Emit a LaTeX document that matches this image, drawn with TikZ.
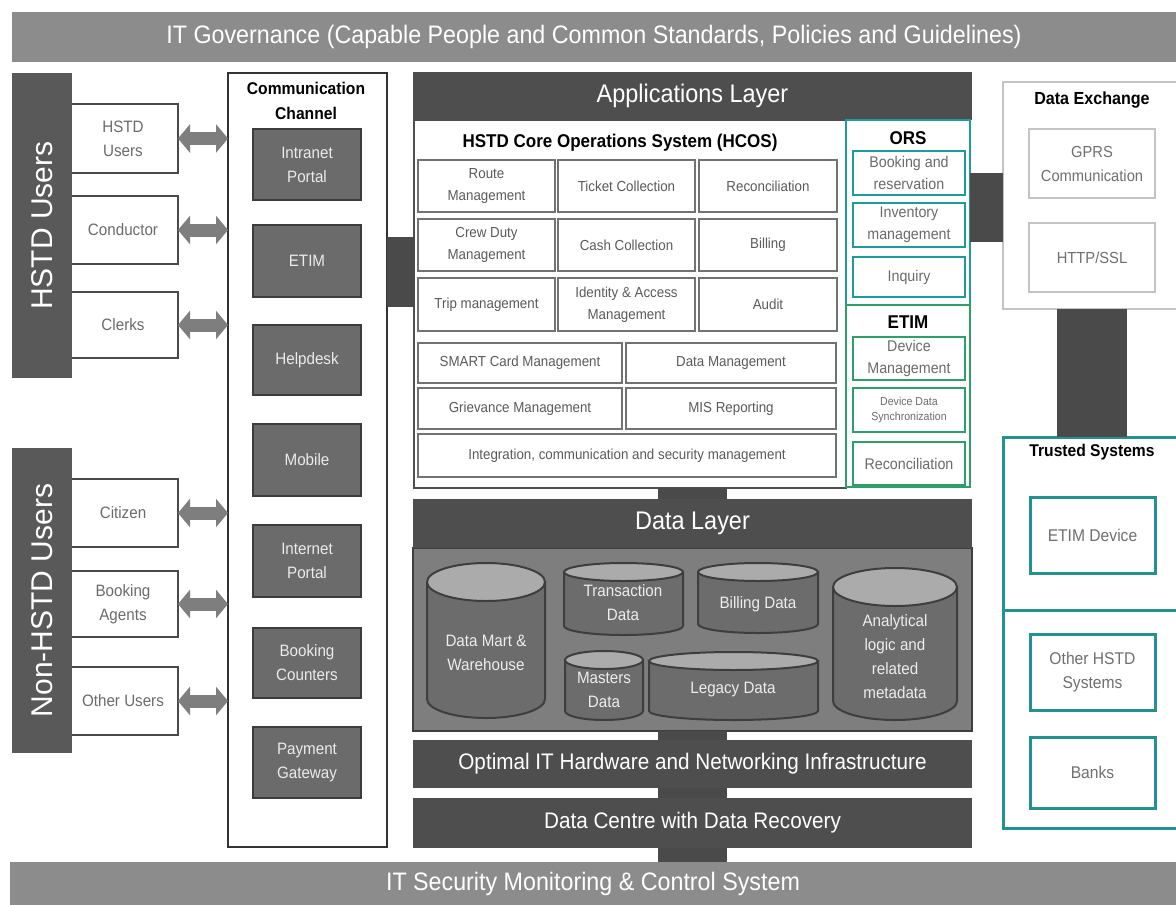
\documentclass[tikz,border=0pt]{standalone}
\usepackage{fontspec}
\setmainfont{Liberation Sans}[FakeStretch=0.92]
\newfontfamily\widefont{Liberation Sans}
\usetikzlibrary{arrows.meta}
\definecolor{bargray}{HTML}{8C8C8C}
\definecolor{userbar}{HTML}{595959}
\definecolor{appdark}{HTML}{4E4E4E}
\definecolor{conngray}{HTML}{4A4A4A}
\definecolor{chfill}{HTML}{6B6B6B}
\definecolor{chdraw}{HTML}{3C3C3C}
\definecolor{cellline}{HTML}{727272}
\definecolor{celltext}{HTML}{5A5A5A}
\definecolor{usertext}{HTML}{6B6B6B}
\definecolor{userline}{HTML}{4A4A4A}
\definecolor{orsteal}{HTML}{1F9B9B}
\definecolor{etimgreen}{HTML}{2E9E6A}
\definecolor{trustteal}{HTML}{239191}
\definecolor{dxline}{HTML}{C4C4C4}
\definecolor{dxtext}{HTML}{707070}
\definecolor{dlbody}{HTML}{7E7E7E}
\definecolor{cylbody}{HTML}{6C6C6C}
\definecolor{cyltop}{HTML}{ABABAB}
\definecolor{cylline}{HTML}{3E3E3E}
\definecolor{arrowgray}{HTML}{7E7E7E}
\begin{document}
\begin{tikzpicture}[x=1pt,y=-1pt,
  every node/.style={inner sep=0pt,outer sep=0pt,align=center},
  fbig/.style={font=\fontsize{25.5}{30}\selectfont},
  fmed/.style={font=\fontsize{16.5}{24}\selectfont},
  fsml/.style={font=\fontsize{14.5}{21.5}\selectfont},
  fors/.style={font=\fontsize{15.5}{21.5}\selectfont},
  ftiny/.style={font=\fontsize{11.5}{15}\selectfont},
  fbold/.style={font=\fontsize{#1}{25}\selectfont\bfseries},
  bar/.style={fill=bargray,text=white,anchor=north west,font=\fontsize{25.3}{28}\selectfont},
  layerbar/.style={fill=appdark,text=white,anchor=north west,fbig},
  userbar/.style={fill=userbar,anchor=north west},
  userbox/.style={draw=userline,line width=2.5pt,fill=white,text=usertext,anchor=north west,fmed},
  chbox/.style={draw=chdraw,line width=2pt,fill=chfill,text=white!92!black,anchor=north west,fmed},
  cell/.style={draw=cellline,line width=2.5pt,fill=white,text=celltext,anchor=north west,fsml},
  orsbox/.style={draw=orsteal,line width=2.5pt,fill=white,text=usertext,anchor=north west,fors},
  etimbox/.style={draw=etimgreen,line width=2.5pt,fill=white,text=usertext,anchor=north west,fors},
  dxbox/.style={draw=dxline,line width=2.5pt,fill=white,text=dxtext,anchor=north west,font=\fontsize{16}{24}\selectfont},
  tsbox/.style={draw=trustteal,line width=3pt,fill=white,text=dxtext,anchor=north west,font=\fontsize{17}{24}\selectfont},
  conn/.style={draw=conngray,line width=#1},
  dblarrow/.style={draw=arrowgray,line width=13pt,{Triangle[width=28pt,length=12pt]}-{Triangle[width=28pt,length=12pt]}},
  cylb/.style={fill=cylbody,draw=cylline,line width=2pt},
  cylt/.style={fill=cyltop,draw=cylline,line width=2pt},
  cyltext/.style={text=white!93!black,fmed}
]
\useasboundingbox (0,0) rectangle (1176,905);
\fill[white] (0,0) rectangle (1176,905);

% top and bottom bars
\node[bar,minimum width=1164pt,minimum height=50pt] (gov) at (12,12) {IT Governance (Capable People and Common Standards, Policies and Guidelines)};
\node[bar,minimum width=1166pt,minimum height=43pt] (sec) at (10,862) {IT Security Monitoring \& Control System};

% user boxes
\node[userbox,minimum width=110pt,minimum height=69pt] (hu) at (68,104) {HSTD\\Users};
\node[userbox,minimum width=110pt,minimum height=68pt] (cond) at (68,196) {Conductor};
\node[userbox,minimum width=110pt,minimum height=66pt] (clerks) at (68,292) {Clerks};
\node[userbox,minimum width=110pt,minimum height=68pt] (cit) at (68,479) {Citizen};
\node[userbox,minimum width=110pt,minimum height=66pt] (agents) at (68,571) {Booking\\Agents};
\node[userbox,minimum width=110pt,minimum height=68pt] (others) at (68,667) {Other Users};

% user bars
\node[userbar,minimum width=60pt,minimum height=305pt] (hbar) at (12,73) {};
\node[rotate=90,text=white,font=\widefont\fontsize{30}{34}\selectfont] (hbarlbl) at (hbar.center) {HSTD Users};
\node[userbar,minimum width=60pt,minimum height=305pt] (nbar) at (12,448) {};
\node[rotate=90,text=white,font=\widefont\fontsize{30}{34}\selectfont] (nbarlbl) at (nbar.center) {Non-HSTD Users};

% communication channel
\node[draw=black!80,line width=2.5pt,fill=white,anchor=north west,minimum width=159pt,minimum height=774pt] (comm) at (228,73) {};
\node[fbold=17] (commt) at (306,101) {Communication\\Channel};
\node[chbox,minimum width=108pt,minimum height=71pt] (intranet) at (253,129) {Intranet\\Portal};
\node[chbox,minimum width=108pt,minimum height=72pt] (chetim) at (253,225) {ETIM};
\node[chbox,minimum width=108pt,minimum height=70pt] (helpdesk) at (253,325) {Helpdesk};
\node[chbox,minimum width=108pt,minimum height=72pt] (mobile) at (253,424) {Mobile};
\node[chbox,minimum width=108pt,minimum height=72pt] (internet) at (253,525) {Internet\\Portal};
\node[chbox,minimum width=108pt,minimum height=70pt] (counters) at (253,628) {Booking\\Counters};
\node[chbox,minimum width=108pt,minimum height=71pt] (payment) at (253,727) {Payment\\Gateway};

% arrows users <-> channel
\foreach \u in {hu,cond,clerks,cit,agents,others}{
  \draw[dblarrow] (\u.east) -- (\u.east -| comm.west);
}

% applications layer
\node[layerbar,minimum width=559pt,minimum height=48pt] (apps) at (413,72) {Applications Layer};
\node[draw=appdark,line width=2.5pt,fill=white,anchor=north west,minimum width=432pt,minimum height=368pt] (hcos) at (414,120) {};
\node[fbold=18.5] (hcost) at (620,143) {HSTD Core Operations System (HCOS)};
\node[cell,minimum width=137pt,minimum height=52pt] (route) at (418,160) {Route\\Management};
\node[cell,minimum width=137pt,minimum height=52pt] (ticket) at (558,160) {Ticket Collection};
\node[cell,minimum width=138pt,minimum height=52pt] (recon) at (699,160) {Reconciliation};
\node[cell,minimum width=137pt,minimum height=52pt] (crew) at (418,219) {Crew Duty\\Management};
\node[cell,minimum width=137pt,minimum height=52pt] (cash) at (558,219) {Cash Collection};
\node[cell,minimum width=138pt,minimum height=52pt] (billing) at (699,219) {Billing};
\node[cell,minimum width=137pt,minimum height=53pt] (trip) at (418,278) {Trip management};
\node[cell,minimum width=137pt,minimum height=53pt] (iam) at (558,278) {Identity \& Access\\Management};
\node[cell,minimum width=138pt,minimum height=53pt] (audit) at (699,278) {Audit};
\node[cell,minimum width=204pt,minimum height=40pt] (smart) at (418,343) {SMART Card Management};
\node[cell,minimum width=210pt,minimum height=40pt] (datam) at (626,343) {Data Management};
\node[cell,minimum width=204pt,minimum height=41pt] (griev) at (418,388) {Grievance Management};
\node[cell,minimum width=210pt,minimum height=41pt] (mis) at (626,388) {MIS Reporting};
\node[cell,minimum width=418pt,minimum height=43pt] (integ) at (418,434) {Integration, communication and security management};

% ORS
\node[draw=orsteal,line width=2.5pt,fill=white,anchor=north west,minimum width=124pt,minimum height=185pt] (ors) at (846,120) {};
\node[fbold=18.5] (orst) at (908,138) {ORS};
\node[orsbox,minimum width=112pt,minimum height=44pt] (booking) at (853,151) {Booking and\\reservation};
\node[orsbox,minimum width=112pt,minimum height=44pt] (invent) at (853,203) {Inventory\\management};
\node[orsbox,minimum width=112pt,minimum height=40pt] (inquiry) at (853,257) {Inquiry};
% ETIM
\node[draw=etimgreen,line width=2.5pt,fill=white,anchor=north west,minimum width=124pt,minimum height=182pt] (etim) at (846,305) {};
\node[fbold=18.5] (etimt) at (908,322) {ETIM};
\node[etimbox,minimum width=112pt,minimum height=43pt] (devm) at (853,337) {Device\\Management};
\node[etimbox,minimum width=112pt,minimum height=44pt,ftiny] (sync) at (853,388) {Device Data\\Synchronization};
\node[etimbox,minimum width=112pt,minimum height=43pt] (erecon) at (853,442) {Reconciliation};

% data exchange
\node[minimum width=173pt,minimum height=227pt,anchor=north west] (dx) at (1003,82) {};
\draw[draw=dxline,line width=2.5pt] (dx.north east) -- (dx.north west) -- (dx.south west) -- (dx.south east);
\node[fbold=17.5] (dxt) at (1092,100) {Data Exchange};
\node[dxbox,minimum width=126pt,minimum height=69pt] (gprs) at (1029,129) {GPRS\\Communication};
\node[dxbox,minimum width=126pt,minimum height=69pt] (http) at (1029,223) {HTTP/SSL};

% trusted systems
\node[minimum width=173pt,minimum height=391pt,anchor=north west] (ts) at (1003,437) {};
\draw[draw=trustteal,line width=3pt] (ts.north east) -- (ts.north west) -- (ts.south west) -- (ts.south east);
\coordinate (tsdiv) at (0,610);
\draw[draw=trustteal,line width=3pt] (ts.west |- tsdiv) -- (ts.east |- tsdiv);
\node[fbold=17] (tst) at (1092,452) {Trusted Systems};
\node[tsbox,minimum width=125pt,minimum height=76pt] (etimdev) at (1030,497) {ETIM Device};
\node[tsbox,minimum width=125pt,minimum height=76pt] (otherhstd) at (1030,634) {Other HSTD\\Systems};
\node[tsbox,minimum width=125pt,minimum height=71pt] (banks) at (1030,737) {Banks};

% data layer
\node[fill=dlbody,draw=cylline,line width=1.5pt,anchor=north west,minimum width=559pt,minimum height=183pt] (dlbody) at (413,548) {};
\node[layerbar,minimum width=559pt,minimum height=49pt] (datal) at (413,499) {Data Layer};
\node[layerbar,font=\fontsize{22.5}{26}\selectfont,minimum width=559pt,minimum height=48pt] (hw) at (413,740) {Optimal IT Hardware and Networking Infrastructure};
\node[layerbar,font=\fontsize{22.5}{26}\selectfont,minimum width=559pt,minimum height=50pt] (dc) at (413,798) {Data Centre with Data Recovery};

% cylinders
\foreach \xa/\ya/\xb/\yb/\r in {427/563/545/718/19, 564/563/683/635/9, 698/563/818/633/9, 565/651/643/720/9, 649/652/818/720/9, 833/568/957/720/19}{
  \pgfmathsetmacro\cx{(\xa+\xb)/2}
  \pgfmathsetmacro\rx{(\xb-\xa)/2}
  \pgfmathsetmacro\yt{\ya+\r}
  \pgfmathsetmacro\yc{\yb-\r}
  \filldraw[cylb] (\xa,\yt) -- (\xa,\yc) arc[start angle=180,end angle=0,x radius=\rx,y radius=\r] -- (\xb,\yt) -- cycle;
  \filldraw[cylt] (\cx,\yt) ellipse[x radius=\rx,y radius=\r];
}
\node[cyltext] (dmart) at (486,653) {Data Mart \&\\Warehouse};
\node[cyltext] (trans) at (623,603) {Transaction\\Data};
\node[cyltext] (bill) at (758,604) {Billing Data};
\node[cyltext] (mast) at (604,690) {Masters\\Data};
\node[cyltext] (legacy) at (733,690) {Legacy Data};
\node[cyltext] (anal) at (895,657) {Analytical\\logic and\\related\\metadata};

% connectors
\coordinate (c1) at (0,272);
\draw[conn=70pt] (comm.east |- c1) -- (hcos.west |- c1);
\coordinate (c2) at (0,207);
\draw[conn=69pt] (ors.east |- c2) -- (dx.west |- c2);
\coordinate (c3) at (1092,0);
\draw[conn=70pt] (dx.south -| c3) -- (ts.north -| c3);
\draw[conn=69pt] (datal.north) -- (datal.north |- hcos.south);
\draw[conn=69pt] (dlbody.south) -- (hw.north);
\draw[conn=69pt] (hw.south) -- (dc.north);
\draw[conn=69pt] (dc.south) -- (dc.south |- sec.north);
\end{tikzpicture}
\end{document}
